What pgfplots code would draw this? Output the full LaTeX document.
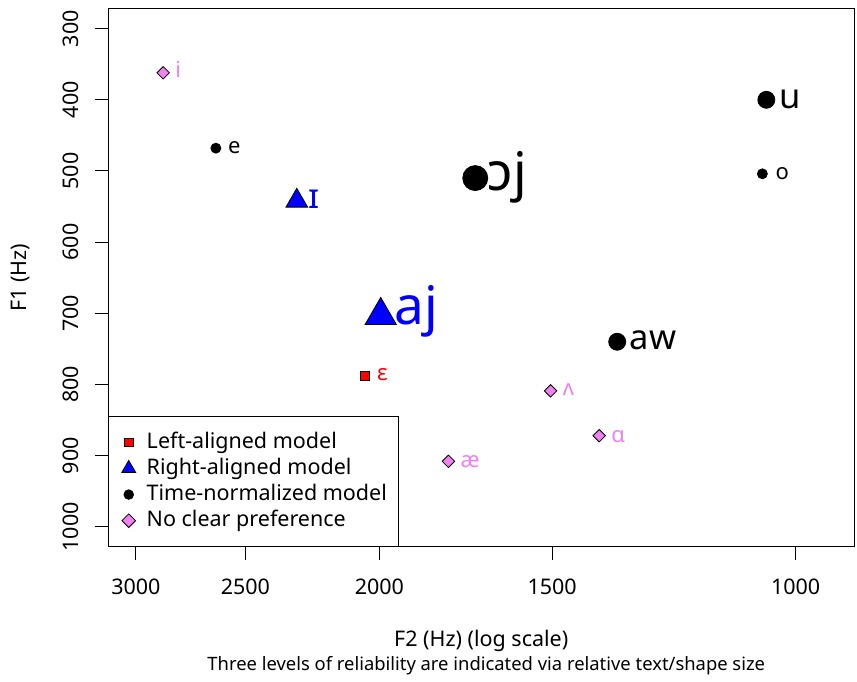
\documentclass[border=0pt]{standalone}
\usepackage{fontspec}
\setmainfont{Noto Sans}
\usepackage{pgfplots}
\pgfplotsset{compat=1.18}
\definecolor{violetR}{RGB}{238,130,238}
\newcommand{\fs}[1]{\fontsize{#1}{#1}\selectfont}
% label: x, y, text, colour, size, xshift, baseline offset (down)
\newcommand{\lab}[7]{\node[anchor=base west, inner sep=0pt, text=#4, font=\fs{#5}, xshift=#6pt, yshift=-#7pt] at (axis cs:#1,#2) {#3};}

\begin{document}
\begin{tikzpicture}
\begin{axis}[name=ax,
  width=745.9pt, height=538pt, scale only axis,
  xmode=log, x dir=reverse, y dir=reverse,
  xmin=907.2, xmax=3141.6, ymin=272, ymax=1028,
  xtick={1000,1500,2000,2500,3000}, xticklabels={1000,1500,2000,2500,3000},
  ytick={300,400,500,600,700,800,900,1000}, yticklabels={300,400,500,600,700,800,900,1000},
  minor x tick num=0,
  tick align=outside, xtick pos=bottom, ytick pos=left, major tick length=13pt,
  every tick/.style={black, line width=1pt},
  axis line style={line width=1pt},
  tick label style={font=\fs{21.5}},
  xticklabel style={anchor=base, yshift=-34.3pt},
  yticklabel style={xshift=-17pt, rotate=90, anchor=base},
  xlabel={F2 (Hz) (log scale)}, ylabel={F1 (Hz)},
  every axis x label/.style={at={(axis description cs:0.5,0)}, anchor=base, yshift=-100pt, font=\fs{21.5}},
  every axis y label/.style={at={(axis description cs:0,0.5)}, xshift=-81.6pt, rotate=90, anchor=base, font=\fs{21.5}},
  clip=false,
  legend style={at={(0,0)}, anchor=south west, draw=black, line width=1pt, fill=white,
    font=\fs{21.5}, inner xsep=10pt, inner ysep=17.45pt, row sep=9.9pt, column sep=6pt,
    nodes={inner xsep=2pt, inner ysep=0pt, text height=14pt, text depth=2.2pt}},
  legend cell align=left,
  legend image code/.code={\path[draw=none, fill=none] (-10pt,-6pt) rectangle (10pt,6pt); \draw[#1] plot coordinates {(0pt,0pt)};},
]
\addlegendimage{only marks, mark=square*, mark size=4.2pt, mark options={fill=red, draw=black, line width=0.8pt}}
\addlegendentry{Left-aligned model}
\addlegendimage{only marks, mark=triangle*, mark size=8pt, mark options={fill=blue, draw=black, line width=0.8pt}}
\addlegendentry{Right-aligned model}
\addlegendimage{only marks, mark=*, mark size=4.8pt, mark options={fill=black, draw=black, line width=0.8pt}}
\addlegendentry{Time-normalized model}
\addlegendimage{only marks, mark=square*, mark size=4.8pt, mark options={rotate=45, fill=violetR, draw=black, line width=0.8pt}}
\addlegendentry{No clear preference}

% Time-normalized (black circles)
\addplot[forget plot, only marks, mark=*, mark size=5pt, mark options={fill=black, draw=black, line width=0.8pt}] coordinates {(2626,468) (1057,504)};
\addplot[forget plot, only marks, mark=*, mark size=8.5pt, mark options={fill=black, draw=black, line width=0.8pt}] coordinates {(1050,400) (1346,740)};
\addplot[forget plot, only marks, mark=*, mark size=12.5pt, mark options={fill=black, draw=black, line width=0.8pt}] coordinates {(1705,510)};
% Right-aligned (blue triangles)
\addplot[forget plot, only marks, mark=triangle*, mark size=12.5pt, mark options={fill=blue, draw=black, line width=0.8pt}] coordinates {(2295,542)};
\addplot[forget plot, only marks, mark=triangle*, mark size=18pt, mark options={fill=blue, draw=black, line width=0.8pt}] coordinates {(1996,703)};
% Left-aligned (red square)
\addplot[forget plot, only marks, mark=square*, mark size=4.5pt, mark options={fill=red, draw=black, line width=0.8pt}] coordinates {(2049,788)};
% No clear preference (violet diamonds)
\addplot[forget plot, only marks, mark=square*, mark size=4.4pt, mark options={rotate=45, fill=violetR, draw=black, line width=0.8pt}] coordinates {(2867,362) (1504,809) (1387,872) (1783,908)};

\lab{2867}{362}{i}{violetR}{22}{12}{5}
\lab{2626}{468}{e}{black}{22}{12}{5.6}
\lab{1057}{504}{o}{black}{22}{13}{5.7}
\lab{2049}{788}{ɛ}{red}{22}{12}{5}
\lab{1504}{809}{ʌ}{violetR}{22}{12}{4.7}
\lab{1387}{872}{ɑ}{violetR}{22}{12}{6.5}
\lab{1783}{908}{æ}{violetR}{22}{12}{6}
\lab{2295}{542}{ɪ}{blue}{34.5}{12}{8.1}
\lab{1050}{400}{u}{black}{34.5}{12.5}{9}
\lab{1346}{740}{aw}{black}{34.5}{12.5}{7.8}
\lab{1705}{510}{ɔj}{black}{53}{12.5}{12.5}
\lab{1996}{703}{aj}{blue}{53}{13.5}{9.5}
\end{axis}
\node[anchor=base, font=\fs{18.4}, xshift=5pt] at ([yshift=-123.3pt]ax.south) {Three levels of reliability are indicated via relative text/shape size};
\pgfresetboundingbox
\path ([shift={(-108.3pt,-134.3pt)}]ax.south west) rectangle ([shift={(2.8pt,8.7pt)}]ax.north east);
\end{tikzpicture}
\end{document}
